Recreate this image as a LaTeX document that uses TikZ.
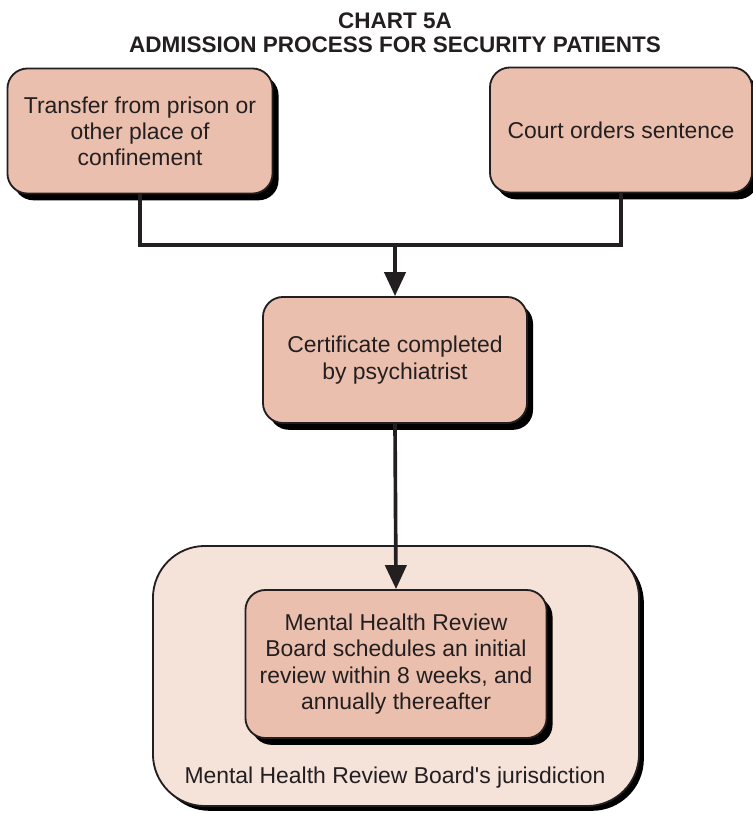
\documentclass[tikz,border=0pt]{standalone}
\usepackage{fontspec}
\setmainfont{Liberation Sans}
\newfontfamily\plainsans{Liberation Sans}
\usetikzlibrary{arrows.meta,shadows}
\definecolor{boxfill}{HTML}{EBBFAD}
\definecolor{areafill}{HTML}{F5E2D9}
\definecolor{edge}{HTML}{231F20}
\begin{document}
\begin{tikzpicture}[x=0.025cm,y=-0.025cm,
    stepbox/.style={draw=edge,line width=1.3pt,fill=boxfill,rounded corners=0.5cm,
      align=center,inner sep=0pt,
      font=\fontsize{16.3}{18.6}\selectfont\color{edge},
      drop shadow={shadow xshift=0.15cm,shadow yshift=-0.17cm,fill=black,opacity=1}},
    areabox/.style={draw=edge,line width=1.3pt,fill=areafill,rounded corners=1.3cm,
      drop shadow={shadow xshift=0.12cm,shadow yshift=-0.12cm,fill=black,opacity=1}},
    link/.style={draw=edge,line width=2.6pt},
    arr/.style={link,-{Triangle[length=0.6cm,width=0.53cm]}}]

  \useasboundingbox (0,0) rectangle (753,814);

  % title
  \node (title) at (395,33) [align=center,text=edge,
    font=\fontsize{16}{17.2}\selectfont\bfseries]
    {CHART 5A\\ADMISSION PROCESS FOR SECURITY PATIENTS};

  % jurisdiction area
  \node (area) at (396,676) [areabox,minimum width=12.15cm,minimum height=6.5cm] {};
  \node (arealabel) at (395,778) [text=edge,font=\plainsans\fontsize{16.3}{18.6}\selectfont]
    {Mental Health Review Board's jurisdiction};

  % boxes
  \node (transfer) at (140,131) [stepbox,minimum width=6.625cm,minimum height=3.125cm]
    {Transfer from prison or\\other place of\\confinement};
  \node (court) at (621,130) [stepbox,minimum width=6.55cm,minimum height=3.125cm]
    {Court orders sentence};
  \node (cert) at (395,360) [stepbox,minimum width=6.6cm,minimum height=3.15cm]
    {Certificate completed\\by psychiatrist};
  \node (review) at (396,664) [stepbox,minimum width=7.525cm,minimum height=3.7cm]
    {Mental Health Review\\Board schedules an initial\\review within 8 weeks, and\\annually thereafter};

  % connectors
  \coordinate (join) at (395,245);
  \draw[link] (transfer.south) |- (join) -| (court.south);
  \draw[arr] (join) -- (cert.north);
  \draw[arr] (cert.south) -- (review.north);

\end{tikzpicture}
\end{document}
